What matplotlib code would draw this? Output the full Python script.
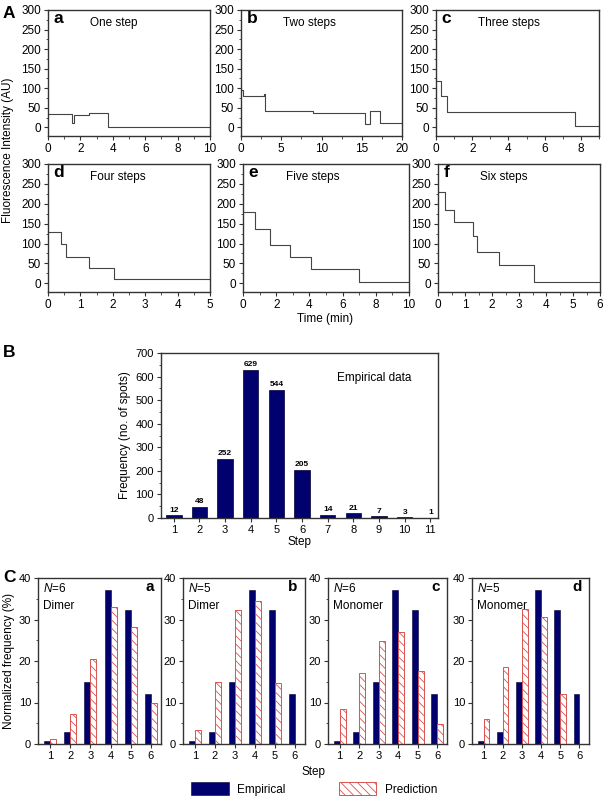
import matplotlib
matplotlib.use('Agg')
import matplotlib.pyplot as plt
import numpy as np
from matplotlib.ticker import MultipleLocator, AutoMinorLocator

plt.rcParams['font.family'] = ['Liberation Sans', 'DejaVu Sans']
plt.rcParams['mathtext.fontset'] = 'custom'
plt.rcParams['mathtext.it'] = 'Liberation Sans:italic'
plt.rcParams['mathtext.rm'] = 'Liberation Sans'
plt.rcParams['hatch.linewidth'] = 0.6

# ---------------- Data ----------------
# Panel A: photobleaching traces (step levels)
trace_titles = ['One step', 'Two steps', 'Three steps', 'Four steps', 'Five steps', 'Six steps']
trace_letters = ['a', 'b', 'c', 'd', 'e', 'f']
trace_xmax = [10, 20, 9, 5, 10, 6]
trace_xstep = [2, 5, 2, 1, 2, 1]

t_a = [0, 1.5, 1.58, 2.5, 3.7, 10]
y_a = [33, 10, 31, 37, 0, 0]
t_b = [0, 0.2, 2.8, 3.0, 9.0, 15.4, 16.0, 17.3, 20]
y_b = [95, 79, 86, 42, 38, 8, 42, 12, 12]
t_c = [0, 0.3, 0.6, 7.7, 9]
y_c = [118, 80, 40, 3, 3]
t_d = [0, 0.4, 0.55, 1.25, 2.05, 5]
y_d = [130, 98, 65, 38, 10, 10]
t_e = [0, 0.7, 1.65, 2.85, 4.1, 7.0, 10]
y_e = [178, 137, 97, 65, 37, 2, 2]
t_f = [0, 0.25, 0.6, 1.3, 1.45, 2.25, 3.55, 6]
y_f = [230, 185, 155, 120, 78, 45, 3, 3]
trace_t = [t_a, t_b, t_c, t_d, t_e, t_f]
trace_y = [y_a, y_b, y_c, y_d, y_e, y_f]

# Panel B: empirical histogram
steps_b = [1, 2, 3, 4, 5, 6, 7, 8, 9, 10, 11]
counts_b = [12, 48, 252, 629, 544, 205, 14, 21, 7, 3, 1]

# Panel C: normalized frequency (%)
steps_c = [1, 2, 3, 4, 5, 6]
empirical_c = [0.7, 2.8, 14.9, 37.2, 32.2, 12.1]
pred_a = [1.3, 7.2, 20.6, 32.9, 28.1, 10.0]
pred_b = [3.3, 15.0, 32.3, 34.5, 14.7, 0.1]
pred_c = [8.5, 17.0, 24.9, 26.9, 17.5, 4.9]
pred_d = [6.1, 18.5, 32.5, 30.6, 12.1, 0.1]
c_N = ['6', '5', '6', '5']
c_kind = ['Dimer', 'Dimer', 'Monomer', 'Monomer']
c_letters = ['a', 'b', 'c', 'd']
c_preds = [pred_a, pred_b, pred_c, pred_d]

# ---------------- Figure ----------------
W, H = 603, 800
fig = plt.figure(figsize=(6.03, 8.0), dpi=100)
SPINE = '#333333'
NAVY = '#00006e'
RED = '#d9534f'


def ax_px(l, t, r, b):
    return fig.add_axes([l / W, 1 - b / H, (r - l) / W, (b - t) / H])


def style(ax, fs=8):
    for s in ax.spines.values():
        s.set_color(SPINE)
        s.set_linewidth(1.0)
    ax.tick_params(which='both', direction='out', color=SPINE, labelsize=fs,
                   top=False, right=False, pad=2)
    ax.tick_params(which='major', length=3, width=0.8)
    ax.tick_params(which='minor', length=1.8, width=0.6)


boxes_A = [(48, 10, 210, 136), (241, 10, 402, 136), (436, 10, 599, 136),
           (48, 164, 210, 292), (243, 164, 409, 292), (438, 164, 600, 292)]
for i, bx in enumerate(boxes_A):
    ax = ax_px(*bx)
    ax.plot(trace_t[i], trace_y[i], drawstyle='steps-post', color='#444444', lw=0.8)
    ax.set_xlim(0, trace_xmax[i])
    ax.set_ylim(-22, 300)
    ax.yaxis.set_major_locator(MultipleLocator(50))
    ax.yaxis.set_minor_locator(AutoMinorLocator(2))
    ax.xaxis.set_major_locator(MultipleLocator(trace_xstep[i]))
    ax.xaxis.set_minor_locator(AutoMinorLocator(2))
    style(ax, 8.5)
    ax.text(0.035, 0.93, trace_letters[i], transform=ax.transAxes, fontsize=12.5,
            fontweight='bold', va='center', ha='left')
    ax.text(0.26, 0.9, trace_titles[i], transform=ax.transAxes, fontsize=8.5,
            va='center', ha='left')

fig.text(0.013, 1 - 150 / H, 'Fluorescence Intensity (AU)', rotation=90,
         ha='center', va='center', fontsize=8.5)
fig.text(325 / W, 1 - 319 / H, 'Time (min)', ha='center', va='center', fontsize=8.5)

# Panel B
axb = ax_px(161, 353, 438, 518)
bars = axb.bar(steps_b, counts_b, width=0.6, color=NAVY, edgecolor='#000033', lw=0.5)
axb.bar_label(bars, labels=[str(c) for c in counts_b], fontsize=6, fontweight='bold', padding=1)
axb.set_xlim(0.5, 11.3)
axb.set_ylim(0, 700)
axb.yaxis.set_major_locator(MultipleLocator(100))
axb.yaxis.set_minor_locator(AutoMinorLocator(2))
axb.set_xticks(steps_b)
style(axb, 8)
axb.set_ylabel('Frequency (no. of spots)', fontsize=8.5, labelpad=3)
axb.set_xlabel('Step', fontsize=8.5, labelpad=1)
axb.text(0.635, 0.85, 'Empirical data', transform=axb.transAxes, fontsize=8.5,
         ha='left', va='center')

# Panel C
boxes_C = [(38, 578, 161, 744), (183, 578, 305, 744), (328, 578, 447, 744), (472, 578, 589, 744)]
xs = np.array(steps_c, dtype=float)
handles = None
for i, bx in enumerate(boxes_C):
    ax = ax_px(*bx)
    h1 = ax.bar(xs - 0.3, empirical_c, width=0.3, align='edge', color=NAVY,
                edgecolor='#000033', lw=0.4)
    h2 = ax.bar(xs, c_preds[i], width=0.3, align='edge', facecolor='white',
                edgecolor=RED, lw=0.7, hatch='\\\\\\\\')
    if handles is None:
        handles = [h1, h2]
    ax.set_xlim(0.4, 6.5)
    ax.set_ylim(0, 40)
    ax.yaxis.set_major_locator(MultipleLocator(10))
    ax.yaxis.set_minor_locator(AutoMinorLocator(2))
    ax.set_xticks(steps_c)
    style(ax, 8)
    ax.text(0.04, 0.975, '$N$=' + c_N[i], transform=ax.transAxes, fontsize=8.5,
            ha='left', va='top')
    ax.text(0.04, 0.87, c_kind[i], transform=ax.transAxes, fontsize=8.5,
            ha='left', va='top')
    ax.text(0.94, 0.945, c_letters[i], transform=ax.transAxes, fontsize=11,
            fontweight='bold', ha='right', va='center')
    if i == 0:
        ax.set_ylabel('Normalized frequency (%)', fontsize=8.5, labelpad=3)

fig.text(314 / W, 1 - 772 / H, 'Step', ha='center', va='center', fontsize=8.5)
fig.legend(handles, ['Empirical', 'Prediction'], ncol=2, loc='center',
           bbox_to_anchor=(314 / W, 1 - 789 / H), frameon=False, fontsize=8.5,
           handlelength=3.2, handleheight=1.2, handletextpad=0.7, columnspacing=4.5)

# Panel letters
fig.text(3 / W, 1 - 13 / H, 'A', fontsize=12.5, fontweight='bold', ha='left', va='center')
fig.text(3 / W, 1 - 353 / H, 'B', fontsize=12.5, fontweight='bold', ha='left', va='center')
fig.text(3 / W, 1 - 578 / H, 'C', fontsize=12.5, fontweight='bold', ha='left', va='center')

fig.savefig('out.png', dpi=100)
